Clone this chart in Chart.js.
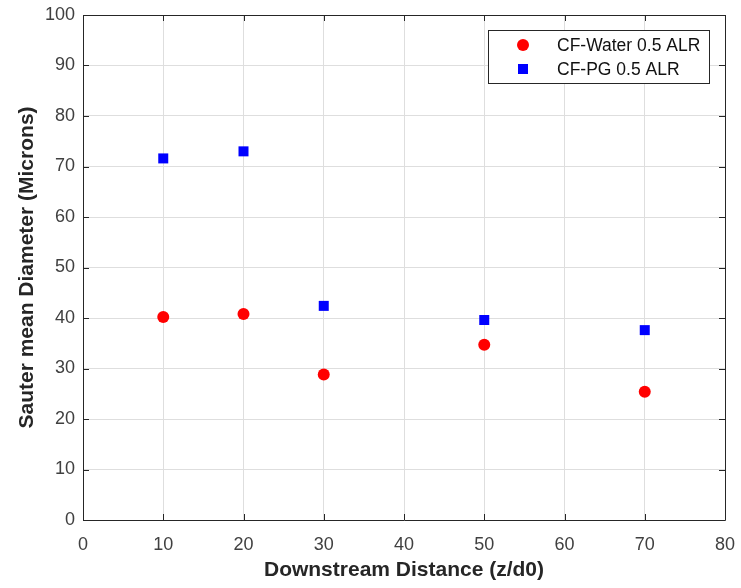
<!DOCTYPE html>
<html>
<head>
<meta charset="utf-8">
<script src="https://cdn.jsdelivr.net/npm/chart.js@4/dist/chart.umd.min.js"></script>
<style>
html,body{margin:0;padding:0;background:#fff;}
#wrap{width:741px;height:588px;}
</style>
</head>
<body>
<div id="wrap"><canvas id="c" width="741" height="588"></canvas></div>
<script>
const distances = [10, 20, 30, 50, 70];
const waterSMD = [40.2, 40.8, 28.8, 34.7, 25.4];
const pgSMD = [71.6, 73.0, 42.4, 39.6, 37.6];
const seriesNames = ['CF-Water 0.5 ALR', 'CF-PG 0.5 ALR'];
const xTitle = 'Downstream Distance (z/d0)';
const yTitle = 'Sauter mean Diameter (Microns)';

const FONT = '"Liberation Sans", Arial, Helvetica, sans-serif';
const AX = '#262626';

const boxPlugin = {
  id: 'boxPlugin',
  afterDatasetsDraw(chart) {
    const {ctx, chartArea: a, scales: {x, y}} = chart;
    ctx.save();
    ctx.strokeStyle = AX;
    ctx.lineWidth = 1;
    ctx.beginPath();
    ctx.rect(Math.round(a.left) + 0.5, Math.round(a.top) + 0.5, Math.round(a.right - a.left), Math.round(a.bottom - a.top));
    ctx.stroke();
    const t = 6;
    ctx.beginPath();
    x.ticks.forEach(tk => {
      const px = Math.round(x.getPixelForValue(tk.value)) + 0.5;
      ctx.moveTo(px, a.bottom); ctx.lineTo(px, a.bottom - t);
      ctx.moveTo(px, a.top); ctx.lineTo(px, a.top + t);
    });
    y.ticks.forEach(tk => {
      const py = Math.round(y.getPixelForValue(tk.value)) + 0.5;
      ctx.moveTo(a.left, py); ctx.lineTo(a.left + t, py);
      ctx.moveTo(a.right, py); ctx.lineTo(a.right - t, py);
    });
    ctx.stroke();

    // legend inside plot
    const lx = 488, ly = 30, lw = 221, lh = 53;
    ctx.fillStyle = '#fff';
    ctx.fillRect(lx, ly, lw, lh);
    ctx.strokeStyle = AX;
    ctx.strokeRect(lx + 0.5, ly + 0.5, lw, lh);
    ctx.font = '17.5px ' + FONT;
    ctx.textBaseline = 'middle';
    ctx.textAlign = 'left';
    chart.data.datasets.forEach((ds, i) => {
      const cy = ly + 15 + i * 24;
      ctx.fillStyle = ds.backgroundColor;
      if (ds.pointStyle === 'circle') {
        ctx.beginPath(); ctx.arc(523, cy, 6, 0, Math.PI * 2); ctx.fill();
      } else {
        ctx.fillRect(518, cy - 5, 10, 10);
      }
      ctx.fillStyle = '#111';
      ctx.fillText(ds.label, 557, cy + 1);
    });
    ctx.restore();
  }
};

new Chart(document.getElementById('c'), {
  type: 'scatter',
  data: {
    datasets: [
      {
        label: seriesNames[0],
        data: distances.map((d, i) => ({x: d, y: waterSMD[i]})),
        pointStyle: 'circle',
        pointRadius: 6,
        pointHoverRadius: 6,
        backgroundColor: '#ff0000',
        borderColor: '#ff0000',
        borderWidth: 0
      },
      {
        label: seriesNames[1],
        data: distances.map((d, i) => ({x: d, y: pgSMD[i]})),
        pointStyle: 'rect',
        pointRadius: 7.07,
        pointHoverRadius: 7.07,
        backgroundColor: '#0000ff',
        borderColor: '#0000ff',
        borderWidth: 0
      }
    ]
  },
  options: {
    responsive: false,
    animation: false,
    events: [],
    layout: {padding: {top: 15, right: 16, left: 0, bottom: 0}},
    plugins: {legend: {display: false}, tooltip: {enabled: false}},
    scales: {
      x: {
        type: 'linear', min: 0, max: 80,
        ticks: {stepSize: 10, color: '#404040', font: {family: FONT, size: 18}, padding: 14, maxRotation: 0},
        grid: {color: '#dedede', drawTicks: false},
        border: {display: false},
        title: {display: true, text: xTitle, color: AX, font: {family: FONT, size: 21, weight: 'bold'}, padding: {top: 5, bottom: 5}},
        afterFit(s) { s.height = 68; s.paddingLeft = 0; s.paddingRight = 0; }
      },
      y: {
        type: 'linear', min: 0, max: 100,
        ticks: {stepSize: 10, color: '#404040', font: {family: FONT, size: 18}, padding: 8},
        grid: {color: '#dedede', drawTicks: false},
        border: {display: false},
        title: {display: true, text: yTitle, color: AX, font: {family: FONT, size: 21, weight: 'bold'}, padding: {top: 15, bottom: 15}},
        afterFit(s) { s.width = 83; s.paddingTop = 0; s.paddingBottom = 0; }
      }
    }
  },
  plugins: [boxPlugin]
});
</script>
</body>
</html>
